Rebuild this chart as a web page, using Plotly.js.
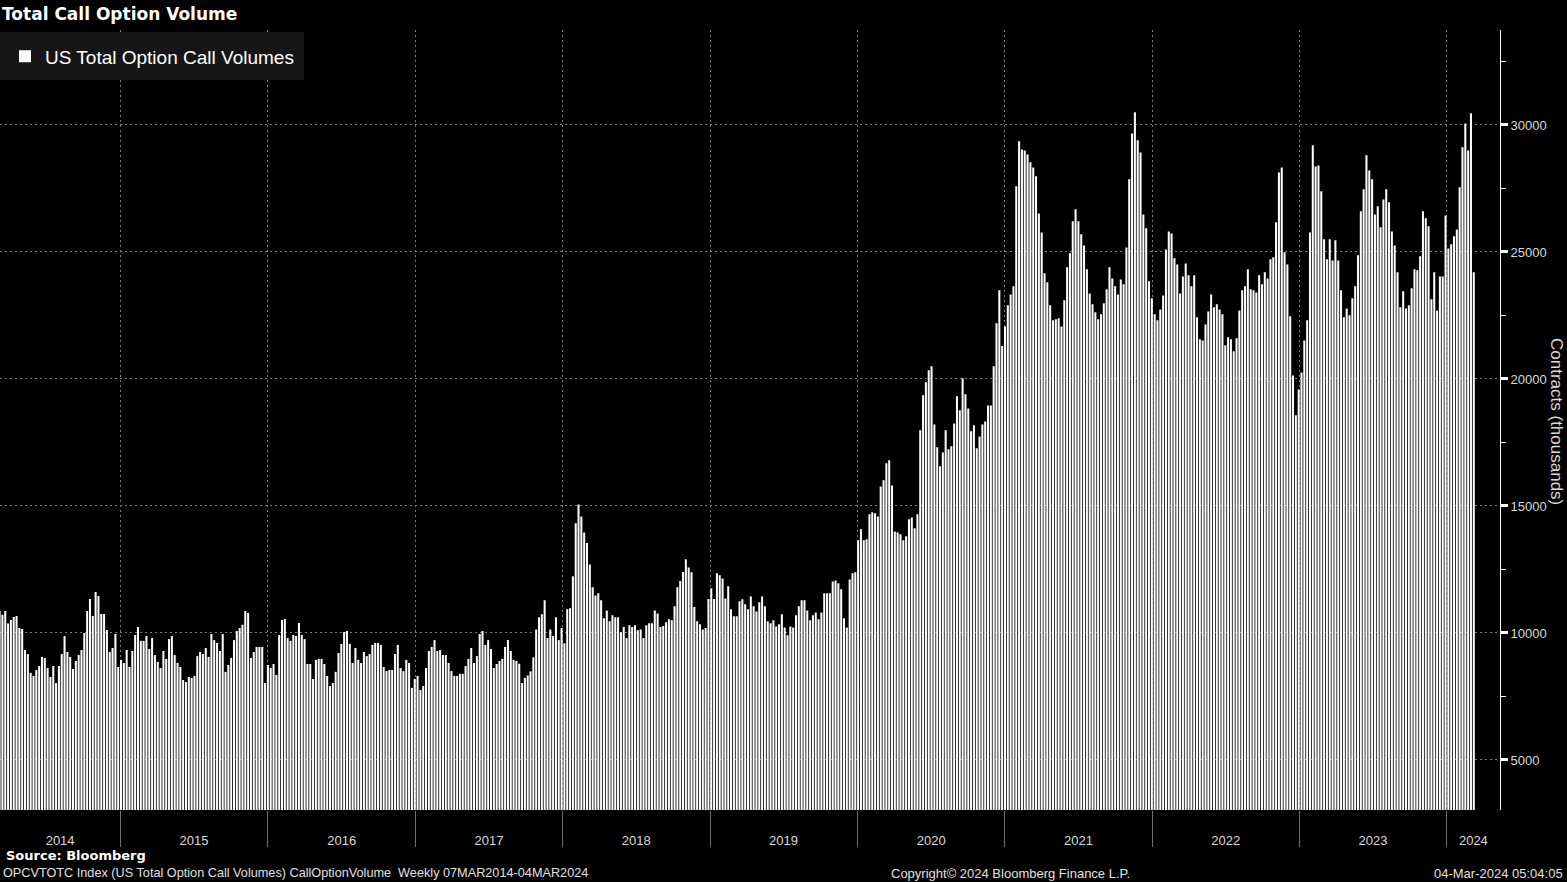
<!DOCTYPE html>
<html>
<head>
<meta charset="utf-8">
<script src="https://cdn.plot.ly/plotly-3.0.1.min.js"></script>
<style>
html,body{margin:0;padding:0;background:#000;}
#chart{width:1567px;height:882px;}
</style>
</head>
<body>
<div id="chart"></div>
<script>
// ---- Data (weekly, thousands of contracts) ----
const seriesName = 'US Total Option Call Volumes';
const firstWeek = [2014, 2, 7]; // 07 Mar 2014 (UTC y, m-1, d)
const yearLabels = ['2014','2015','2016','2017','2018','2019','2020','2021','2022','2023','2024'];
const yTickValues = [5000, 10000, 15000, 20000, 25000, 30000];

// Mar 2014 - Dec 2015
const volPart1 = [
  10870,10720,10870,10370,10510,10630,10670,10200,10160,9330,
  9170,8430,8310,8540,8700,9060,9020,8620,8270,8700,
  8030,8700,9170,9880,9250,9060,8580,8900,9130,9330,
  10000,10870,11340,10670,11610,11460,10750,10750,10120,9250,
  9410,9960,8660,8940,8820,9330,8660,9290,9920,10240,
  9690,9690,9880,9370,9800,9130,8860,8620,9290,8980,
  9760,9880,9130,8820,8660,8150,8070,8270,8230,8310,
  9090,9250,9170,9410,9060,9960,9720,9610,9290,9960,
  8470,8740,9020,9720,10080,10200,10320,10870,10790,9020,
  9250,9450,9450,9450
];
// Jan 2016 - Aug 2017
const volPart2 = [
  8030,8740,8620,8780,8350,9920,10510,10550,9800,9690,
  9920,9880,10390,9920,9760,8780,8780,8190,8940,8980,
  8980,8780,8310,7910,8030,8470,9210,9570,10040,10080,
  9570,8820,9410,8940,8820,9250,9090,9170,9530,9610,
  9610,9530,8660,8500,8540,8540,9170,9530,8620,8500,
  8940,8820,7840,8190,8310,7760,7910,8620,9290,9450,
  9720,9290,9330,9130,9130,8820,8500,8310,8310,8390,
  8390,8700,8980,9410,8820,9090,9960,10080,9530,9720,
  9370,8620,8780,8900,8980,9450,9720,9290,8940,8900
];
// Aug 2017 - Jan 2019
const volPart3 = [
  8790,8030,8230,8330,8490,9040,10140,10620,10740,11290,
  9800,10140,9880,10620,9720,10200,9590,10930,10970,12230,
  14320,15060,14590,13960,13540,12700,11800,11480,11560,11290,
  10580,10890,10460,10700,10620,10620,10030,10240,9800,10300,
  10240,10300,10110,10140,9800,10300,10380,10380,10890,10770,
  10240,10280,10420,10540,10500,11050,11800,12050,12400,12900,
  12580,12390,11020,10460,10340,10140,10200,11340,11760,11340,
  12350
];
// Jan 2019 - Feb 2020
const volPart4 = [
  12270,12150,11360,11840,10930,10660,10660,11250,11330,11130,
  10930,11440,11050,10850,11210,11440,11050,10460,10380,10500,
  10260,10340,10740,10220,9910,10260,10220,10700,11050,11290,
  11290,10890,10500,10700,10810,10540,10810,11560,11560,11560,
  12030,12070,11960,11720,10580,10220,12110,12350,12390,13650,
  14080,13650,13690,14670
];
// Feb 2020 - Dec 2020
const volPart5 = [
  14750,14710,14590,15770,16010,16680,16800,15810,14000,13960,
  13890,13650,13810,14480,14550,14120,14670,17980,19360,19870,
  20340,20500,18210,17310,16560,17110,17980,17230,17350,18250,
  19320,18770,20030,19400,18840,17940,18180,17270,17740,18210,
  18330,18960,18960,20500
];
// Dec 2020 - Jan 2022
const volPart6 = [
  22190,23490,21300,22070,22900,23330,23650,27590,29360,29040,
  29000,28840,28530,28330,27980,26520,25770,24160,23810,22900,
  22310,22350,22390,22070,23100,24400,24950,26210,26680,26210,
  25700,25260,24320,23370,22940,22630,22350,22550,22980,23530,
  24400,23960,23650,23330,23920,23730,25180,27860,29670,30500,
  29400,28920,26480,25930,23850,23180,22550,22310
];
// Jan 2022 - Jan 2023
const volPart7 = [
  22740,23290,25100,25810,25730,24750,24510,23370,24040,24550,
  24080,23650,24080,22430,21560,21520,22150,22660,23330,22820,
  22940,22740,22550,21330,21640,21560,21090,21600,22700,23490,
  23650,24320,23530,23490,23410,24080,23730,24200,23960,24710,
  24790,26170,28130,28330,24990,24510,22470,20140,18570,19590,
  20260,21520,22310,25770
];
// Feb 2023 - Mar 2024
const volPart8 = [
  29200,28370,28410,27390,25500,24710,25500,24670,25460,24670,
  23490,22430,22780,22510,23180,23650,24870,26600,27470,28810,
  28210,27860,26480,26800,25970,27070,27470,26960,25810,25260,
  24200,22820,23450,22780,22900,23570,24320,24280,24830,26600,
  26330,26010,23140,24200,22700,24040,24040,26440,25140,25300,
  25620,25890,27550,29120,30060,29000,30460,24200
];

const callVolumes = [].concat(volPart1, volPart2, volPart3, volPart4,
                              volPart5, volPart6, volPart7, volPart8);

// weekly dates
const DAY = 864e5;
const startMs = Date.UTC(firstWeek[0], firstWeek[1], firstWeek[2]);
const iso = ms => new Date(ms).toISOString().slice(0, 10);
const weekDates = callVolumes.map((_, i) => iso(startMs + i * 7 * DAY));

// axis range and year ticks
const xStart = '2014-03-08';
const xEnd = '2024-05-12';
const yearBounds = yearLabels.slice(1).map(y => y + '-01-01');
const labelPos = yearLabels.map((y, i) => {
  const a = i === 0 ? Date.parse(xStart) : Date.UTC(+y, 0, 1);
  const b = i === yearLabels.length - 1 ? Date.parse(xEnd) : Date.UTC(+y + 1, 0, 1);
  return iso((a + b) / 2);
});
const yMinor = yTickValues.map(v => v - 2500).concat([yTickValues[yTickValues.length - 1] + 2500]);

const font = 'Liberation Sans, Arial, sans-serif';
const boldFont = 'DejaVu Sans, Verdana, sans-serif';
const axisText = '#d9d9d9';
const gridColor = '#7a7a7a';
const gridDash = '2px,3px';

const trace = {
  type: 'bar',
  x: weekDates,
  y: callVolumes,
  name: seriesName,
  marker: {color: '#ffffff', line: {width: 0}},
  showlegend: true,
  hoverinfo: 'x+y'
};

const layout = {
  width: 1567,
  height: 882,
  paper_bgcolor: '#000000',
  plot_bgcolor: '#000000',
  margin: {l: 0, r: 67, t: 30, b: 72},
  bargap: 0.28,
  showlegend: true,
  title: {
    text: '<b>Total Call Option Volume</b>',
    font: {family: boldFont, size: 17, color: '#ffffff'},
    xref: 'container', yref: 'container',
    x: 0.0013, xanchor: 'left',
    y: 1 - 14 / 882, yanchor: 'middle'
  },
  legend: {
    xref: 'paper', yref: 'paper',
    x: 0, y: 0.997, xanchor: 'left', yanchor: 'top',
    bgcolor: '#161616', bordercolor: '#161616', borderwidth: 5,
    font: {family: font, size: 19, color: '#ffffff'}
  },
  xaxis: {
    type: 'date',
    range: [xStart, xEnd],
    tickmode: 'array',
    tickvals: labelPos,
    ticktext: yearLabels,
    ticks: 'outside', ticklen: 18, tickcolor: 'rgba(0,0,0,0)',
    tickfont: {family: font, size: 13, color: axisText},
    showgrid: false,
    zeroline: false,
    showline: false,
    minor: {
      tickmode: 'array',
      tickvals: yearBounds,
      ticks: 'outside', ticklen: 36, tickwidth: 1, tickcolor: '#6e6e6e',
      showgrid: true, gridcolor: gridColor, gridwidth: 1, griddash: gridDash
    },
    fixedrange: true
  },
  yaxis: {
    side: 'right',
    range: [3031, 33740],
    tickmode: 'array',
    tickvals: yTickValues,
    tickformat: 'd',
    ticks: 'outside', ticklen: 7, tickwidth: 3, tickcolor: '#ffffff',
    tickfont: {family: font, size: 13, color: axisText},
    showline: true, linecolor: '#ffffff', linewidth: 1,
    showgrid: true, gridcolor: gridColor, gridwidth: 1, griddash: gridDash,
    zeroline: false,
    minor: {
      tickmode: 'array',
      tickvals: yMinor,
      ticks: 'outside', ticklen: 5, tickwidth: 1, tickcolor: '#ffffff',
      showgrid: false
    },
    fixedrange: true
  },
  annotations: [
    {
      text: 'Contracts (thousands)', textangle: 90,
      xref: 'paper', yref: 'paper', x: 1557 / 1500, y: (810 - 421) / 780,
      xanchor: 'center', yanchor: 'middle', showarrow: false,
      font: {family: font, size: 17, color: axisText}
    },
    {
      text: '<b>Source: Bloomberg</b>',
      xref: 'paper', yref: 'paper', x: 4 / 1500, y: (810 - 855) / 780,
      xanchor: 'left', yanchor: 'middle', showarrow: false,
      font: {family: boldFont, size: 13, color: '#ffffff'}
    },
    {
      text: 'OPCVTOTC Index (US Total Option Call Volumes) CallOptionVolume  Weekly 07MAR2014-04MAR2024',
      xref: 'paper', yref: 'paper', x: 1 / 1500, y: (810 - 873) / 780,
      xanchor: 'left', yanchor: 'middle', showarrow: false,
      font: {family: font, size: 12.7, color: '#e0e0e0'}
    },
    {
      text: 'Copyright\u00a9 2024 Bloomberg Finance L.P.',
      xref: 'paper', yref: 'paper', x: 1010 / 1500, y: (810 - 873) / 780,
      xanchor: 'center', yanchor: 'middle', showarrow: false,
      font: {family: font, size: 13, color: '#e0e0e0'}
    },
    {
      text: '04-Mar-2024 05:04:05',
      xref: 'paper', yref: 'paper', x: 1565 / 1500, y: (810 - 873) / 780,
      xanchor: 'right', yanchor: 'middle', showarrow: false,
      font: {family: font, size: 13, color: '#e0e0e0'}
    }
  ]
};

Plotly.newPlot('chart', [trace], layout, {displayModeBar: false, staticPlot: true});
</script>
</body>
</html>
